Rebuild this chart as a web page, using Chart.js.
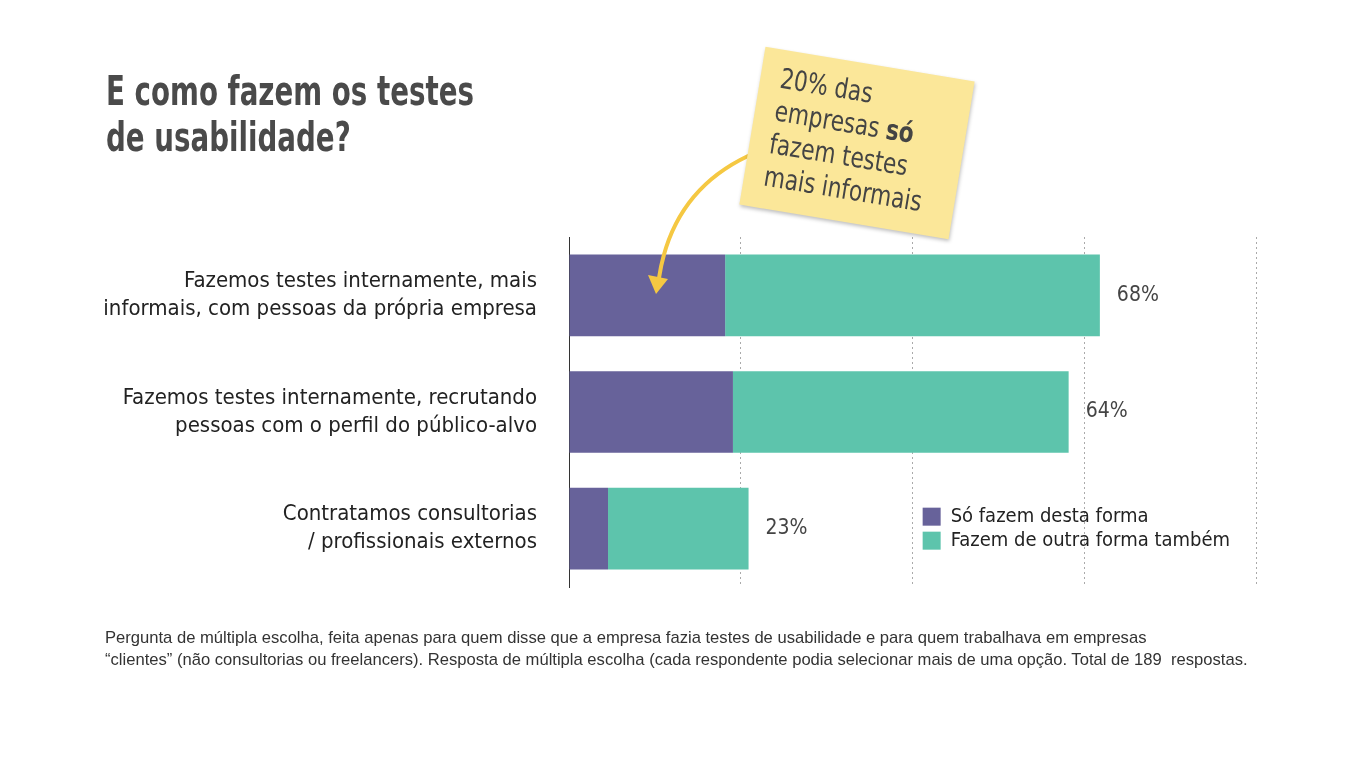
<!DOCTYPE html>
<html>
<head>
<meta charset="utf-8">
<script src="https://cdn.jsdelivr.net/npm/chart.js@4"></script>
<style>
  html, body { margin: 0; padding: 0; background: #fff; }
  body { width: 1361px; height: 764px; position: relative; overflow: hidden; }
  #c { position: absolute; left: 0; top: 0; }
  .title { position: absolute; left: 106px; top: 68px; font-family: "DejaVu Sans Condensed", sans-serif; font-weight: bold; font-size: 40px; line-height: 46px; color: #4a4a4a; transform: scaleX(0.77); transform-origin: 0 0; white-space: nowrap; }
  .note { position: absolute; left: 751px; top: 63px; width: 212px; height: 160px; background: #fbe799; transform: rotate(9.4deg); box-shadow: 1px 2px 4px rgba(0,0,0,0.25); box-sizing: border-box; padding: 12px 0 0 20px; }
  .note span { display: block; font-family: "DejaVu Sans Condensed", sans-serif; font-size: 28px; line-height: 33px; color: #444; transform: scaleX(0.86); transform-origin: 0 0; white-space: nowrap; }
  .foot { position: absolute; left: 105px; top: 627px; font-family: "Liberation Sans", Arial, sans-serif; font-size: 16.6px; line-height: 22px; color: #333; white-space: nowrap; }
  svg { position: absolute; left: 0; top: 0; }
</style>
</head>
<body>
<canvas id="c" width="1361" height="764"></canvas>
<div class="title">E como fazem os testes<br>de usabilidade?</div>
<svg width="1361" height="764">
  <path d="M 748 156 Q 672 192 659 278" fill="none" stroke="#f5c842" stroke-width="4" stroke-linecap="round"/>
  <polygon points="656,294 648,275 668,279" fill="#f5c842"/>
</svg>
<div class="note"><span>20% das<br>empresas <b>só</b><br>fazem testes<br>mais informais</span></div>
<div class="foot">Pergunta de múltipla escolha, feita apenas para quem disse que a empresa fazia testes de usabilidade e para quem trabalhava em empresas<br>“clientes” (não consultorias ou freelancers). Resposta de múltipla escolha (cada respondente podia selecionar mais de uma opção. Total de 189&nbsp; respostas.</div>
<script>
const categories = [
  ['Fazemos testes internamente, mais', 'informais, com pessoas da própria empresa'],
  ['Fazemos testes internamente, recrutando', 'pessoas com o perfil do público-alvo'],
  ['Contratamos consultorias', '/ profissionais externos']
];
const soDestaForma = [20, 21, 5];
const outraFormaTambem = [48, 43, 18];
const totals = [68, 64, 23];
const seriesNames = ['Só fazem desta forma', 'Fazem de outra forma também'];
const colors = ['#67629a', '#5dc4ac'];

const FONT = '"DejaVu Sans Condensed", sans-serif';

const extras = {
  id: 'extras',
  afterDatasetsDraw(chart) {
    const ctx = chart.ctx;
    const xs = chart.scales.x, ys = chart.scales.y;
    ctx.save();
    ctx.font = '21px ' + FONT;
    ctx.fillStyle = '#444';
    ctx.textBaseline = 'middle';
    ctx.textAlign = 'left';
    totals.forEach((t, i) => {
      ctx.fillText(t + '%', xs.getPixelForValue(t) + 17, ys.getPixelForValue(i));
    });
    // legend
    const lx = xs.getPixelForValue(45.3), ly = ys.getPixelForValue(2) - 21;
    ctx.font = '20px ' + FONT;
    seriesNames.forEach((n, i) => {
      ctx.fillStyle = colors[i];
      ctx.fillRect(lx, ly + i * 24, 18, 18);
      ctx.fillStyle = '#222';
      ctx.fillText(n, lx + 28, ly + i * 24 + 9);
    });
    ctx.restore();
  }
};

new Chart(document.getElementById('c'), {
  type: 'bar',
  data: {
    labels: categories,
    datasets: [
      { label: seriesNames[0], data: soDestaForma, backgroundColor: colors[0] },
      { label: seriesNames[1], data: outraFormaTambem, backgroundColor: colors[1] }
    ]
  },
  options: {
    indexAxis: 'y',
    responsive: false,
    animation: false,
    layout: { padding: { left: 0, top: 237, right: 105, bottom: 177 } },
    datasets: { bar: { categoryPercentage: 0.7, barPercentage: 1 } },
    plugins: { legend: { display: false }, tooltip: { enabled: false } },
    scales: {
      x: {
        stacked: true, min: 0, max: 88,
        ticks: { display: false, stepSize: 22 },
        grid: { color: '#aaa', lineWidth: 1, drawTicks: false },
        border: { display: false, dash: [2, 3] }
      },
      y: {
        stacked: true,
        afterFit(s) { s.width = 569; },
        ticks: { color: '#222', padding: 32, font: { family: FONT, size: 22, lineHeight: 1.27 } },
        grid: { display: false, drawTicks: false },
        border: { display: true, color: '#333', width: 1 }
      }
    }
  },
  plugins: [extras]
});
</script>
</body>
</html>
